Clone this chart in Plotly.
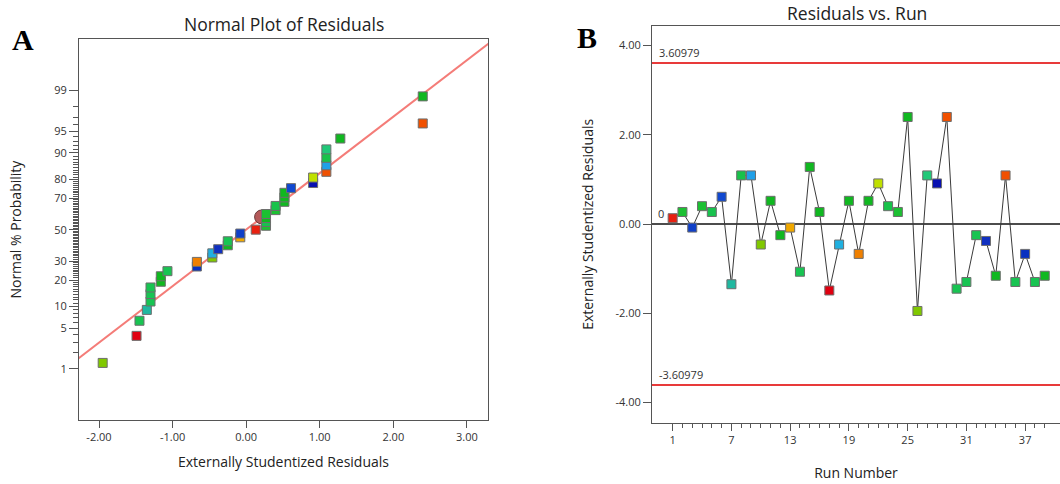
import plotly.graph_objects as go
from statistics import NormalDist

# ---------------- data ----------------
runs = list(range(1, 40))
residuals = [0.13, 0.27, -0.08, 0.40, 0.27, 0.61, -1.35, 1.09, 1.09, -0.46,
             0.52, -0.25, -0.08, -1.07, 1.28, 0.27, -1.49, -0.46, 0.52, -0.67,
             0.52, 0.91, 0.40, 0.27, 2.40, -1.95, 1.09, 0.91, 2.40, -1.45,
             -1.30, -0.25, -0.38, -1.16, 1.09, -1.30, -0.67, -1.30, -1.16]
run_colors = ["#e82010", "#1cc032", "#1040c8", "#1cc032", "#18c24e", "#1048d0",
              "#20b8a0", "#18c24a", "#20a0e8", "#80c800", "#10b820", "#10b820",
              "#f0a800", "#18c452", "#10b820", "#10b820", "#e00010", "#20b0e0",
              "#10b820", "#f08000", "#10b820", "#c0e000", "#18c24a", "#1cc032",
              "#10b820", "#80c800", "#20c878", "#0810b0", "#f05000", "#18c452",
              "#18c452", "#18c452", "#1030c0", "#10b820", "#f05000", "#18c452",
              "#0830c0", "#18c452", "#10b820"]

# normal plot: runs in rank order and their normal % probabilities
normal_order = [26, 17, 30, 7, 31, 36, 38, 34, 39, 14, 37, 20, 10, 18, 33, 12, 32,
                13, 3, 1, 2, 5, 16, 24, 4, 23, 11, 19, 21, 6, 28, 22, 35, 9, 8, 27,
                15, 29, 25]
normal_prob = [1.3, 3.8, 6.4, 9.0, 11.5, 14.1, 16.7, 19.2, 21.8, 24.4, 26.9, 29.5,
               32.1, 34.6, 37.2, 39.7, 42.3, 44.9, 47.4, 50.0, 52.6, 55.1, 57.7,
               60.3, 62.8, 65.4, 67.9, 70.5, 73.1, 75.6, 78.2, 80.8, 83.3, 85.9,
               88.5, 91.0, 93.6, 96.2, 98.7]
prob_ticks = [1, 5, 10, 20, 30, 50, 70, 80, 90, 95, 99]
prob_minor = [p for p in range(2, 99) if p not in prob_ticks]
fit_mean, fit_sd = 0.0, 1.06
cursor_x, cursor_prob = 0.21, 58.4

limit_hi, limit_lo = 3.60979, -3.60979
run_ticks = [1, 7, 13, 19, 25, 31, 37]
res_ticks = [-4, -2, 0, 2, 4]
x_ticks_left = [-2, -1, 0, 1, 2, 3]

nd = NormalDist()
def z(p):
    return nd.inv_cdf(p / 100.0)

W, H = 1060, 484
def px(x): return x / W
def py(y): return 1 - y / H

fig = go.Figure()

# ---------- Panel A ----------
fx = [-2.6, 3.6]
fig.add_trace(go.Scatter(x=fx, y=[(v - fit_mean) / fit_sd for v in fx], mode="lines",
                         line=dict(color="#f47c78", width=2), xaxis="x", yaxis="y",
                         showlegend=False, hoverinfo="skip"))
fig.add_trace(go.Scatter(x=[cursor_x], y=[z(cursor_prob)], mode="markers",
                         marker=dict(symbol="circle", size=14, color="#b45a5a",
                                     line=dict(color="#6a3a3a", width=1)),
                         xaxis="x", yaxis="y", showlegend=False))
fig.add_trace(go.Scatter(x=[residuals[r - 1] for r in normal_order],
                         y=[z(p) for p in normal_prob], mode="markers",
                         marker=dict(symbol="square", size=9,
                                     color=[run_colors[r - 1] for r in normal_order],
                                     line=dict(color="#6e6e6e", width=1)),
                         xaxis="x", yaxis="y", showlegend=False))

# ---------- Panel B ----------
fig.add_trace(go.Scatter(x=[-1.11, 40.6], y=[0, 0], mode="lines",
                         line=dict(color="#111111", width=1.6), xaxis="x2", yaxis="y2",
                         showlegend=False, hoverinfo="skip"))
for v in (limit_hi, limit_lo):
    fig.add_trace(go.Scatter(x=[-1.11, 40.6], y=[v, v], mode="lines",
                             line=dict(color="#e83a3a", width=2), xaxis="x2", yaxis="y2",
                             showlegend=False, hoverinfo="skip"))
fig.add_trace(go.Scatter(x=runs, y=residuals, mode="lines",
                         line=dict(color="#3a3a3a", width=1), xaxis="x2", yaxis="y2",
                         showlegend=False, hoverinfo="skip"))
fig.add_trace(go.Scatter(x=runs, y=residuals, mode="markers",
                         marker=dict(symbol="square", size=9, color=run_colors,
                                     line=dict(color="#6e6e6e", width=1)),
                         xaxis="x2", yaxis="y2", showlegend=False))

tickfont = dict(family="Open Sans, DejaVu Sans, sans-serif", size=11, color="#333333")
titlefont = dict(family="Open Sans, DejaVu Sans, sans-serif", size=14, color="#222222")
annfont = dict(family="Open Sans, sans-serif", size=11, color="#333333")
headfont = dict(family="Open Sans, sans-serif", size=17.5, color="#222222")

fig.update_layout(
    width=W, height=H, margin=dict(l=0, r=0, t=0, b=0),
    paper_bgcolor="white", plot_bgcolor="white",
    xaxis=dict(domain=[px(79), px(488)], range=[-2.272, 3.287],
               tickvals=x_ticks_left, ticktext=[f"{v:.2f}" for v in x_ticks_left],
               ticks="outside", ticklen=7, tickcolor="#555555", tickfont=tickfont,
               showline=True, linecolor="#555555", linewidth=1, mirror=True,
               showgrid=False, zeroline=False, anchor="y",
               title=dict(text="Externally Studentized Residuals", font=titlefont, standoff=13)),
    yaxis=dict(domain=[py(420), py(39.3)], range=[-3.18, 3.18],
               tickvals=[z(p) for p in prob_ticks], ticktext=[str(p) for p in prob_ticks],
               ticks="outside", ticklen=9, tickcolor="#555555", tickfont=tickfont,
               minor=dict(tickvals=[z(p) for p in prob_minor], ticks="outside",
                          ticklen=5, tickcolor="#555555", showgrid=False),
               showline=True, linecolor="#555555", linewidth=1, mirror=True,
               showgrid=False, zeroline=False, anchor="x",
               title=dict(text="Normal % Probability", font=titlefont, standoff=29)),
    xaxis2=dict(domain=[px(652), 1.0], range=[-1.11, 40.56],
                tickvals=run_ticks, ticks="outside", ticklen=7, tickcolor="#555555",
                tickfont=tickfont,
                minor=dict(tickvals=[r for r in runs if r not in run_ticks],
                           ticks="outside", ticklen=4, tickcolor="#555555", showgrid=False),
                showline=True, linecolor="#555555", linewidth=1, mirror=True,
                showgrid=False, zeroline=False, anchor="y2",
                title=dict(text="Run Number", font=titlefont, standoff=22)),
    yaxis2=dict(domain=[py(422.7), py(26)], range=[-4.455, 4.44],
                tickvals=res_ticks, ticktext=[f"{v:.2f}" for v in res_ticks],
                ticks="outside", ticklen=8, tickcolor="#555555", tickfont=tickfont,
                showline=True, linecolor="#555555", linewidth=1, mirror=False,
                showgrid=False, zeroline=False, anchor="x2",
                title=dict(text="Externally Studentized Residuals", font=titlefont, standoff=18)),
    annotations=[
        dict(text="Normal Plot of Residuals", x=px(283.5), y=py(24), xref="paper", yref="paper",
             xanchor="center", yanchor="middle", showarrow=False, font=headfont),
        dict(text="Residuals vs. Run", x=px(857), y=py(13), xref="paper", yref="paper",
             xanchor="center", yanchor="middle", showarrow=False, font=headfont),
        dict(text="<b>A</b>", x=px(23), y=py(40), xref="paper", yref="paper",
             xanchor="center", yanchor="middle", showarrow=False,
             font=dict(family="Liberation Serif, serif", size=30, color="black")),
        dict(text="<b>B</b>", x=px(587), y=py(38), xref="paper", yref="paper",
             xanchor="center", yanchor="middle", showarrow=False,
             font=dict(family="Liberation Serif, serif", size=30, color="black")),
        dict(text=f"{limit_hi:.5f}", x=-0.6, y=limit_hi, xref="x2", yref="y2",
             xanchor="left", yanchor="bottom", showarrow=False, yshift=1, font=annfont),
        dict(text=f"{limit_lo:.5f}", x=-0.6, y=limit_lo, xref="x2", yref="y2",
             xanchor="left", yanchor="bottom", showarrow=False, yshift=1, font=annfont),
        dict(text="0", x=-0.7, y=0, xref="x2", yref="y2",
             xanchor="left", yanchor="bottom", showarrow=False, yshift=1, font=annfont),
    ],
)

fig.write_html("out.html", config={"displayModeBar": False},
               post_script="document.body.style.margin='0';")
